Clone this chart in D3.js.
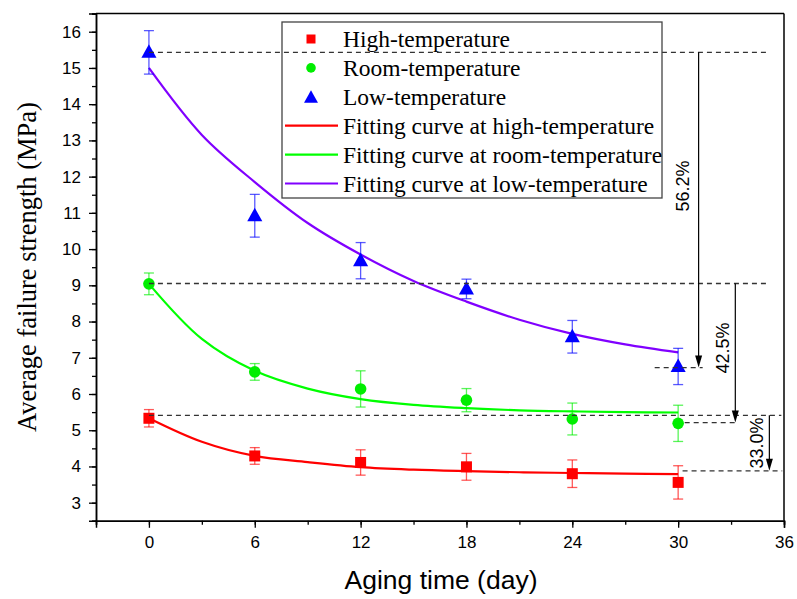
<!DOCTYPE html>
<html><head><meta charset="utf-8">
<script src="https://cdn.jsdelivr.net/npm/d3@7"></script>
<style>
html,body{margin:0;padding:0;background:#fff;}
svg{display:block;}
</style></head>
<body>
<svg id="chart" width="797" height="599"></svg>
<script>
// ---- data ----
const days = [0, 6, 12, 18, 24, 30];
const highVals = [5.33, 4.29, 4.11, 3.99, 3.80, 3.56];
const highErr  = [0.24, 0.23, 0.35, 0.37, 0.38, 0.46];
const roomVals = [9.04, 6.61, 6.14, 5.83, 5.31, 5.19];
const roomErr  = [0.30, 0.23, 0.50, 0.32, 0.44, 0.50];
const lowVals  = [15.43, 10.92, 9.68, 8.90, 7.58, 6.76];
const lowErr   = [0.60, 0.59, 0.50, 0.27, 0.45, 0.50];
const fitDays  = [0, 3, 6, 9, 12, 15, 18, 21, 24, 27, 30];
const highFit  = [5.33, 4.68, 4.29, 4.12, 3.98, 3.91, 3.87, 3.84, 3.82, 3.80, 3.79];
const roomFit  = [9.04, 7.52, 6.64, 6.15, 5.86, 5.70, 5.61, 5.55, 5.52, 5.50, 5.49];
const lowFit   = [15.0, 13.15, 11.85, 10.72, 9.85, 9.12, 8.55, 8.05, 7.66, 7.37, 7.15];
const xTicks = [0, 6, 12, 18, 24, 30, 36];
const yTicks = [3, 4, 5, 6, 7, 8, 9, 10, 11, 12, 13, 14, 15, 16];
const legendLabels = ["High-temperature", "Room-temperature", "Low-temperature",
  "Fitting curve at high-temperature", "Fitting curve at room-temperature", "Fitting curve at low-temperature"];
// reference dashed lines: [value, fromDay, toDay]
const refLines = [[15.43, 0, 35.17], [9.05, 0, 35.17], [5.41, 0, 35.85],
  [6.73, 28.67, 31.39], [5.21, 30.37, 33.37], [3.88, 30.25, 35.9]];
// reduction arrows: [day, fromValue, toValue, label, labelDay, labelValue]
const arrows = [[31.16, 15.43, 6.73, "56.2%", 30.27, 11.74],
  [33.24, 9.05, 5.21, "42.5%", 32.54, 7.27],
  [35.17, 5.41, 3.88, "33.0%", 34.47, 4.65]];

// ---- chart ----
const svg = d3.select("#chart");
const x = d3.scaleLinear().domain([-3, 36]).range([96, 784]);
const y = d3.scaleLinear().domain([2.5, 16.5]).range([520.8, 13.6]);
const sans = "'Liberation Sans', Arial, sans-serif";
const serif = "'Liberation Serif', 'Times New Roman', serif";

const colors = {high: "#ff0000", room: "#00ee00", low: "#0000ff"};
const fitColors = {high: "#ff0000", room: "#00ff00", low: "#8000ff"};

// frame top/right
svg.append("line").attr("x1", 96).attr("x2", 784).attr("y1", 13.6).attr("y2", 13.6)
  .attr("stroke", "#000").attr("stroke-width", 1.5);
svg.append("line").attr("x1", 784).attr("x2", 784).attr("y1", 13.6).attr("y2", 520.8)
  .attr("stroke", "#000").attr("stroke-width", 1.5);

// axes
const xMinor = d3.range(-3, 37, 3);
const yMinor = d3.range(2.5, 16.6, 0.5);
const gxm = svg.append("g").attr("transform", "translate(0,520.8)")
  .call(d3.axisBottom(x).tickValues(xMinor).tickSize(4).tickFormat(""));
const gx = svg.append("g").attr("transform", "translate(0,520.8)")
  .call(d3.axisBottom(x).tickValues(xTicks).tickSize(7).tickPadding(8).tickFormat(d3.format("d")));
const gym = svg.append("g").attr("transform", "translate(96,0)")
  .call(d3.axisLeft(y).tickValues(yMinor).tickSize(4).tickFormat(""));
const gy = svg.append("g").attr("transform", "translate(96,0)")
  .call(d3.axisLeft(y).tickValues(yTicks).tickSize(7).tickPadding(8).tickFormat(d3.format("d")));
[gx, gy, gxm, gym].forEach(g => {
  g.selectAll("path").attr("stroke", "#000").attr("stroke-width", 1.5);
  g.selectAll("line").attr("stroke", "#000").attr("stroke-width", 1.3);
  g.selectAll("text").attr("font-family", sans).attr("font-size", 17).attr("fill", "#000");
});

// axis titles
svg.append("text").attr("x", 441).attr("y", 589).attr("text-anchor", "middle")
  .attr("font-family", sans).attr("font-size", 26.5).text("Aging time (day)");
svg.append("text").attr("transform", "translate(36,267) rotate(-90)").attr("text-anchor", "middle")
  .attr("font-family", serif).attr("font-size", 26.5).text("Average failure strength (MPa)");

// fitting curves
const line = d3.line().x(d => x(d[0])).y(d => y(d[1])).curve(d3.curveCatmullRom);
[["high", highFit], ["room", roomFit], ["low", lowFit]].forEach(([k, arr]) => {
  svg.append("path").datum(fitDays.map((d, i) => [d, arr[i]]))
    .attr("d", line).attr("fill", "none").attr("stroke", fitColors[k]).attr("stroke-width", 2.2);
});

// error bars + markers
const triPath = (cx, cy, s) => `M${cx},${cy - s * 0.62}L${cx + s * 0.58},${cy + s * 0.42}L${cx - s * 0.58},${cy + s * 0.42}Z`;
function series(key, vals, errs, shape) {
  const g = svg.append("g");
  const c = colors[key];
  days.forEach((d, i) => {
    const cx = x(d), top = y(vals[i] + errs[i]), bot = y(vals[i] - errs[i]);
    const eg = g.append("g").attr("stroke", c).attr("stroke-width", 1.3).attr("stroke-opacity", 0.65);
    eg.append("line").attr("x1", cx).attr("x2", cx).attr("y1", top).attr("y2", bot);
    eg.append("line").attr("x1", cx - 5).attr("x2", cx + 5).attr("y1", top).attr("y2", top);
    eg.append("line").attr("x1", cx - 5).attr("x2", cx + 5).attr("y1", bot).attr("y2", bot);
    const cy = y(vals[i]);
    if (shape === "square") g.append("rect").attr("x", cx - 5.5).attr("y", cy - 5.5).attr("width", 11).attr("height", 11).attr("fill", c);
    else if (shape === "circle") g.append("circle").attr("cx", cx).attr("cy", cy).attr("r", 5.8).attr("fill", c);
    else g.append("path").attr("d", triPath(cx, cy, 13)).attr("fill", c);
  });
}
series("high", highVals, highErr, "square");
series("room", roomVals, roomErr, "circle");
series("low", lowVals, lowErr, "tri");

// reference dashed lines
refLines.forEach(([v, d0, d1]) => {
  svg.append("line").attr("x1", x(d0)).attr("x2", x(d1)).attr("y1", y(v)).attr("y2", y(v))
    .attr("stroke", "#333").attr("stroke-width", 1.3).attr("stroke-dasharray", "5,4");
});

// arrows
arrows.forEach(([d, v0, v1, lab, ld, lv]) => {
  const ax = x(d), y0 = y(v0), y1 = y(v1);
  svg.append("line").attr("x1", ax).attr("x2", ax).attr("y1", y0).attr("y2", y1 - 10)
    .attr("stroke", "#000").attr("stroke-width", 1.2);
  svg.append("path").attr("d", `M${ax - 3.5},${y1 - 12}L${ax + 3.5},${y1 - 12}L${ax},${y1}Z`).attr("fill", "#000");
  svg.append("text").attr("transform", `translate(${x(ld)},${y(lv)}) rotate(-90)`)
    .attr("text-anchor", "middle").attr("dominant-baseline", "central")
    .attr("font-family", sans).attr("font-size", 18).text(lab);
});

// legend
const lg = svg.append("g");
lg.append("rect").attr("x", 282).attr("y", 22).attr("width", 380).attr("height", 176)
  .attr("fill", "none").attr("stroke", "#444").attr("stroke-width", 1.3);
const rowY = i => 39 + i * 28.9;
legendLabels.forEach((t, i) => {
  lg.append("text").attr("x", 343).attr("y", rowY(i)).attr("dominant-baseline", "central")
    .attr("font-family", serif).attr("font-size", 23.5).attr("fill", "#000").text(t);
});
lg.append("rect").attr("x", 311 - 4.5).attr("y", rowY(0) - 4.5).attr("width", 9).attr("height", 9).attr("fill", colors.high);
lg.append("circle").attr("cx", 311).attr("cy", rowY(1)).attr("r", 4.8).attr("fill", colors.room);
lg.append("path").attr("d", triPath(311, rowY(2) + 1, 12)).attr("fill", colors.low);
["high", "room", "low"].forEach((k, j) => {
  lg.append("line").attr("x1", 285).attr("x2", 338).attr("y1", rowY(3 + j)).attr("y2", rowY(3 + j))
    .attr("stroke", fitColors[k]).attr("stroke-width", 2.2);
});
</script>
</body></html>
